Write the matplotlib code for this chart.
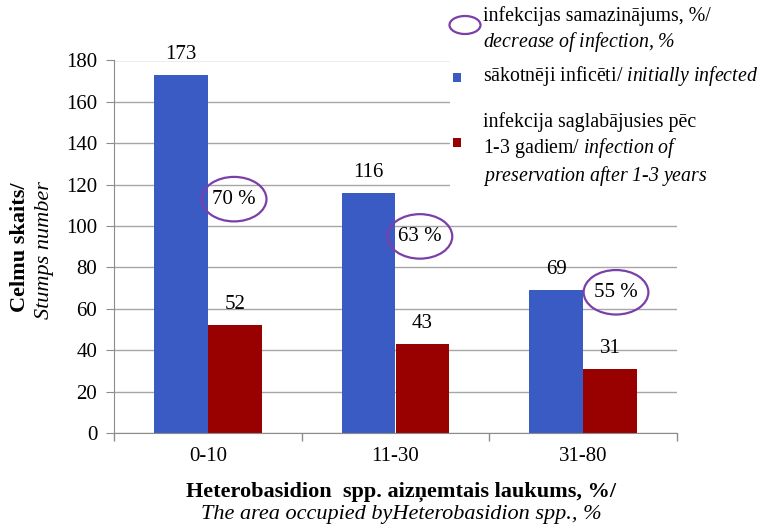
import numpy as np
import matplotlib.pyplot as plt
from matplotlib.patches import Ellipse, Rectangle

plt.rcParams['font.family'] = ['Liberation Serif', 'DejaVu Serif']
plt.rcParams['mathtext.fontset'] = 'custom'
plt.rcParams['mathtext.rm'] = 'Liberation Serif:italic'
plt.rcParams['mathtext.it'] = 'Liberation Serif:italic'
plt.rcParams['mathtext.bf'] = 'Liberation Serif:bold'
plt.rcParams['mathtext.default'] = 'rm'

# dati
grupas = ['0-10', '11-30', '31-80']
sakotneji = [173, 116, 69]
saglabajusies = [52, 43, 31]
samazinajums = ['70 %', '63 %', '55 %']
# ellipse centres (x offset from group, y value)
ell_dx = [0.14, 0.13, 0.175]
ell_y = [113, 95, 68]

zils = '#3B5BC4'
sarkans = '#990000'
violets = '#7B3FA8'
fs = 15
fs_leg = 14.3
fs_t = 16
W, H = 767, 526


def it(s):
    # italic fragment via mathtext (rm font is italic)
    s = s.replace(' ', r'\ ').replace('%', r'\%').replace(',', '{,}').replace('-', '\u2010')
    return '$' + s + '$'


fig = plt.figure(figsize=(W / 100, H / 100), dpi=100)
ax = fig.add_axes([114 / W, 1 - 433 / H, (677 - 114) / W, (433 - 60.5) / H])

x = np.arange(len(grupas))
w = 0.287
b1 = ax.bar(x - w / 2, sakotneji, w, color=zils, zorder=2)
b2 = ax.bar(x + w / 2, saglabajusies, w, color=sarkans, zorder=2)

for bars, vals in [(b1, sakotneji), (b2, saglabajusies)]:
    for r, v in zip(bars, vals):
        ax.annotate(str(v), (r.get_x() + r.get_width() / 2, v), xytext=(0, 8),
                    textcoords='offset points', ha='center', va='bottom',
                    fontsize=fs, annotation_clip=False)

for i, t in enumerate(samazinajums):
    e = Ellipse((x[i] + ell_dx[i], ell_y[i]), 0.345, 21.5, facecolor='none',
                edgecolor=violets, lw=1.6, zorder=4)
    ax.add_patch(e)
    ax.text(x[i] + ell_dx[i], ell_y[i], t, ha='center', va='center', fontsize=fs, zorder=5)

ax.set_xlim(-0.5, 2.5)
ax.set_ylim(0, 180)
ax.set_yticks(np.arange(0, 181, 20))
ax.set_xticks(x)
ax.set_xticklabels(grupas, fontsize=fs)
ax.set_xticks([-0.5, 0.5, 1.5, 2.5], minor=True)
ax.tick_params(axis='x', which='major', length=0, pad=10)
ax.tick_params(axis='x', which='minor', length=6, color='#8C8C8C', width=1)
ax.tick_params(axis='y', length=6, color='#8C8C8C', labelsize=fs, pad=6)
ax.grid(axis='y', color='#A6A6A6', lw=1, zorder=0)
for s in ['top', 'right']:
    ax.spines[s].set_visible(False)
for s in ['left', 'bottom']:
    ax.spines[s].set_color('#8C8C8C')

# asu nosaukumi
xc = 401 / W
fig.text(xc, 1 - 492 / H, 'Heterobasidion  spp. aizņemtais laukums, %/',
         ha='center', va='center', fontsize=fs_t, fontweight='bold')
fig.text(xc, 1 - 514 / H, 'The area occupied byHeterobasidion spp., %',
         ha='center', va='center', fontsize=fs_t, style='italic')
fig.text(20 / W, 1 - 247 / H, 'Celmu skaits/', rotation=90, ha='center', va='center',
         fontsize=fs_t, fontweight='bold')
fig.text(44 / W, 1 - 250 / H, 'Stumps number', rotation=90, ha='center', va='center',
         fontsize=fs_t, style='italic')

# legenda (white box over the gridlines)
fig.add_artist(Rectangle((450 / W, 1 - 192 / H), 1, 192 / H, transform=fig.transFigure,
                         facecolor='white', edgecolor='none', zorder=3))
fig.add_artist(Ellipse((465 / W, 1 - 25 / H), 31 / W, 18 / H, transform=fig.transFigure,
                       facecolor='none', edgecolor=violets, lw=1.6, zorder=4))
fig.add_artist(Rectangle((452.5 / W, 1 - 81.5 / H), 9 / W, 9 / H, transform=fig.transFigure,
                         facecolor=zils, edgecolor='none', zorder=4))
fig.add_artist(Rectangle((452.5 / W, 1 - 146.5 / H), 9 / W, 9 / H, transform=fig.transFigure,
                         facecolor=sarkans, edgecolor='none', zorder=4))
leg_labels = ['infekcijas samazinājums, %/\n' + it('decrease of infection, %'),
              'sākotnēji inficēti/ ' + it('initially infected'),
              'infekcija saglabājusies pēc\n1-3 gadiem/ ' + it('infection of') + '\n'
              + it('preservation after 1-3 years')]
leg_y = [30, 76, 150]
for lab, yy in zip(leg_labels, leg_y):
    fig.text(483 / W, 1 - yy / H, lab, ha='left', va='center', fontsize=fs_leg,
             linespacing=1.25, zorder=5)

plt.savefig('out.png', dpi=100)
